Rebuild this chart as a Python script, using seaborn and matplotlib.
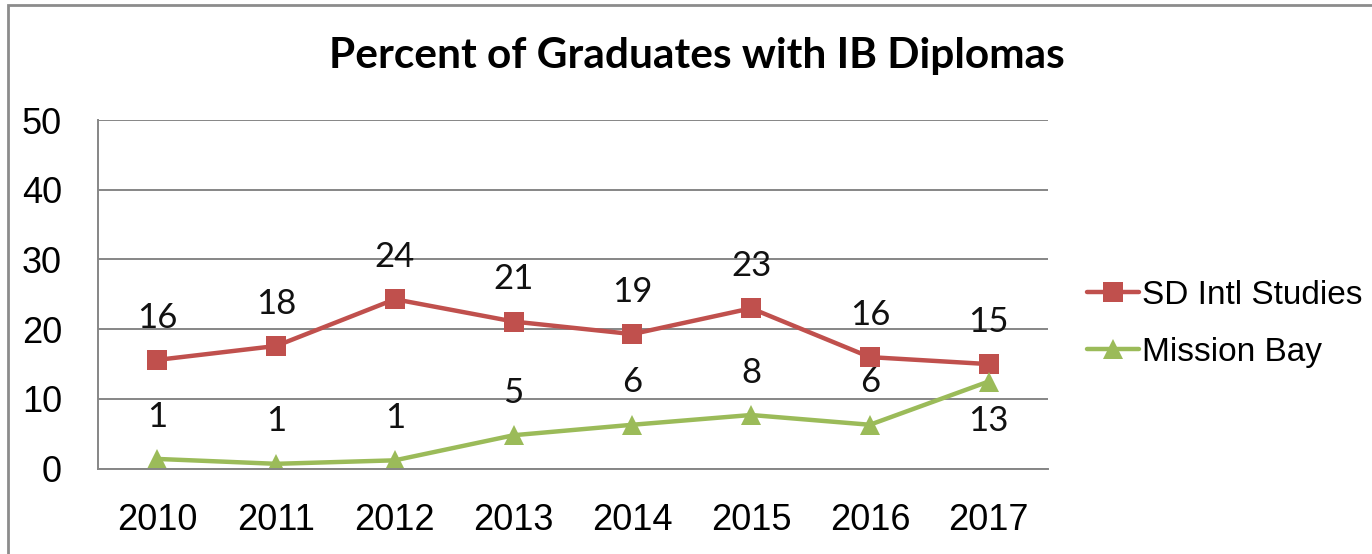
import numpy as np
import pandas as pd
import matplotlib
matplotlib.use('Agg')
import matplotlib.pyplot as plt
import matplotlib.patches as mpatches
import seaborn as sns

# Data
years = ['2010', '2011', '2012', '2013', '2014', '2015', '2016', '2017']
sd_intl = [15.6, 17.6, 24.3, 21.1, 19.3, 23.0, 16.0, 15.0]
mission_bay = [1.4, 0.7, 1.2, 4.8, 6.3, 7.7, 6.3, 12.5]
sd_labels = ['16', '18', '24', '21', '19', '23', '16', '15']
mb_labels = ['1', '1', '1', '5', '6', '8', '6', '13']
series_names = ['SD Intl Studies', 'Mission Bay']
y_ticks = [0, 10, 20, 30, 40, 50]

red = '#C0504D'
green = '#9BBB59'
grid_col = '#868686'

df = pd.DataFrame({
    'year': years * 2,
    'value': sd_intl + mission_bay,
    'school': [series_names[0]] * len(years) + [series_names[1]] * len(years),
})

sns.set_style('white')
plt.rcParams['font.family'] = ['Liberation Sans', 'DejaVu Sans']
plt.rcParams['text.color'] = 'black'
plt.rcParams['xtick.labelcolor'] = 'black'
plt.rcParams['ytick.labelcolor'] = 'black'

fig = plt.figure(figsize=(13.72, 5.54), dpi=100)
ax = fig.add_axes([98 / 1372, 1 - 468.7 / 554, 950 / 1372, 348.7 / 554])

sns.lineplot(data=df, x='year', y='value', hue='school', style='school',
             palette=[red, green], markers=['s', '^'], dashes=False,
             markersize=15, linewidth=3.2, markeredgewidth=0, ax=ax,
             sort=False)

ax.set_xlim(-0.5, 7.5)
ax.set_ylim(0, 50)
ax.set_yticks(y_ticks)
ax.set_yticklabels([str(t) for t in y_ticks], fontsize=26)
ax.yaxis.grid(True, color=grid_col, linewidth=1.4)
ax.set_axisbelow(True)
ax.tick_params(axis='y', length=14, width=1.4, color=grid_col, pad=12)

# category boundaries as major ticks, labels on minor ticks at centers
ax.set_xticks(np.arange(-0.5, 8.0, 1.0))
ax.set_xticklabels([])
ax.set_xticks(np.arange(len(years)), minor=True)
ax.set_xticklabels(years, minor=True, fontsize=26)
ax.tick_params(axis='x', which='major', length=12, width=1.4, color=grid_col)
ax.tick_params(axis='x', which='minor', length=0, pad=25)

for s in ['top', 'right']:
    ax.spines[s].set_visible(False)
for s in ['left', 'bottom']:
    ax.spines[s].set_color(grid_col)
    ax.spines[s].set_linewidth(1.4)
ax.set_xlabel('')
ax.set_ylabel('')

# data labels
lab_font = dict(family=['Lato', 'DejaVu Sans'], fontsize=25, color='#111111', ha='center')
for i, (v, t) in enumerate(zip(sd_intl, sd_labels)):
    ax.annotate(t, (i, v), xytext=(0, 19), textcoords='offset points', va='bottom', **lab_font)
for i, (v, t) in enumerate(zip(mission_bay, mb_labels)):
    if i == len(years) - 1:
        ax.annotate(t, (i, v), xytext=(0, -17), textcoords='offset points', va='top', **lab_font)
    else:
        ax.annotate(t, (i, v), xytext=(0, 19), textcoords='offset points', va='bottom', **lab_font)

# legend
handles, labels = ax.get_legend_handles_labels()
leg = ax.legend(handles, labels, loc='center left', bbox_to_anchor=(1.041, 0.415),
                frameon=False, fontsize=24, handlelength=1.56, handletextpad=0.1,
                labelspacing=0.78, borderaxespad=0, borderpad=0)

fig.text(0.508, 1 - 56 / 554, 'Percent of Graduates with IB Diplomas',
         family=['Lato', 'DejaVu Sans'], fontweight='bold', fontsize=30.5,
         ha='center', va='center', color='black')

# outer chart border
fig.patches.append(mpatches.Rectangle((8 / 1372, -0.1), 1.1, 1 - 5 / 554 + 0.1,
                                      transform=fig.transFigure, fill=False,
                                      edgecolor='#8c8c8c', linewidth=2))

fig.savefig('out.png', dpi=100)
